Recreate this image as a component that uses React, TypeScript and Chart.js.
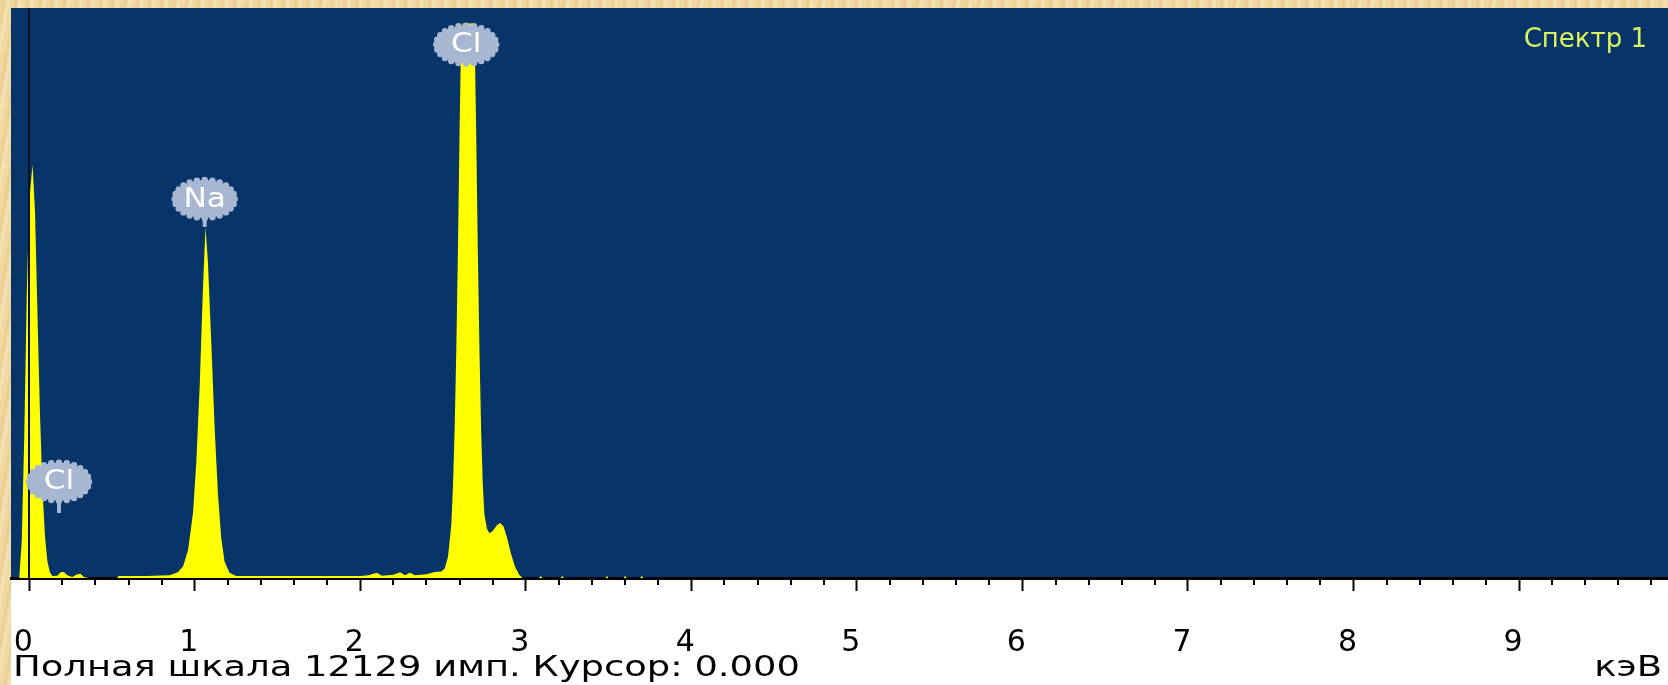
import { useEffect, useRef } from 'react';
import { Chart, registerables } from 'chart.js';

Chart.register(...registerables);

// ---- Spectrum data (energy in keV, counts) ----
const energyKeV = [
  -0.11, -0.06, -0.045, -0.03, -0.015, 0.0, 0.02, 0.035, 0.05, 0.065, 0.08, 0.095, 0.11, 0.125, 0.14,
  0.17, 0.19, 0.21, 0.23, 0.26, 0.29, 0.31, 0.33, 0.36, 0.53, 0.54, 0.7, 0.85,
  0.9, 0.93, 0.96, 0.99, 1.01, 1.03, 1.05, 1.065, 1.08, 1.1, 1.12, 1.14, 1.16, 1.18, 1.21, 1.25,
  1.6, 2.0, 2.05, 2.1, 2.13, 2.2, 2.24, 2.27, 2.3, 2.33, 2.4, 2.45, 2.49,
  2.51, 2.53, 2.55, 2.56, 2.57, 2.58, 2.59, 2.6, 2.61, 2.62, 2.68, 2.69, 2.7, 2.71, 2.72, 2.73, 2.74, 2.75,
  2.765, 2.78, 2.8, 2.825, 2.845, 2.865, 2.885, 2.91, 2.935, 2.96, 2.98,
  3.08, 3.09, 3.1, 3.21, 3.22, 3.23, 3.48, 3.49, 3.5, 3.59, 3.6, 3.61, 3.69, 3.7, 3.71, 9.9,
];
const counts = [
  0, 0, 800, 3000, 6000, 8000, 8800, 7800, 5600, 3500, 1900, 900, 350, 120, 40,
  50, 120, 130, 60, 20, 80, 90, 20, 0, 0, 40, 40, 60,
  130, 250, 600, 1400, 2500, 4100, 6200, 7470, 6700, 5000, 3200, 1800, 850, 350, 110, 45,
  40, 45, 60, 110, 50, 70, 120, 60, 110, 60, 80, 130, 140,
  200, 450, 1140, 1950, 3160, 4835, 6990, 9550, 11700, 11800, 11800, 11700, 9550, 6990, 4835, 3160, 2000, 1350,
  1050, 950, 1000, 1120, 1170, 1100, 880, 520, 240, 70, 0,
  0, 40, 0, 0, 40, 0, 0, 40, 0, 0, 40, 0, 0, 40, 0, 0,
];

// ---- Element markers ----
const peakNames = ['Cl', 'Na', 'Cl'];
const peakLabelKeV = [0.18, 1.06, 2.64];
const peakBubbleCounts = [2050, 8065, 11350];
const peakStemCounts = [1383, 7470, 10960];

// ---- Axis / texts ----
const fullScaleCounts = 12129;
const cursorKeV = 0;
const axisMinKeV = -0.11;
const axisMaxKeV = 9.9;
const minorStepKeV = 0.2;
const spectrumTitle = 'Спектр 1';
const unitLabel = 'кэВ';
const footerText = `Полная шкала ${fullScaleCounts} имп. Курсор: ${cursorKeV.toFixed(3)}`;

const BLUE = '#07356A';
const BUBBLE = '#A8B7D1';

function drawBubble(ctx: CanvasRenderingContext2D, cx: number, cy: number, stemY: number, text: string) {
  const rx = 30;
  const ry = 19;
  ctx.save();
  ctx.fillStyle = BUBBLE;
  ctx.strokeStyle = BUBBLE;
  ctx.lineWidth = 4;
  ctx.beginPath();
  ctx.moveTo(cx, cy + ry);
  ctx.lineTo(cx, stemY);
  ctx.stroke();
  ctx.beginPath();
  ctx.ellipse(cx, cy, rx, ry, 0, 0, Math.PI * 2);
  ctx.fill();
  const n = 24;
  for (let i = 0; i < n; i++) {
    const a = (i / n) * Math.PI * 2;
    ctx.beginPath();
    ctx.arc(cx + rx * Math.cos(a), cy + ry * Math.sin(a), 3.2, 0, Math.PI * 2);
    ctx.fill();
  }
  ctx.fillStyle = '#FFFFFF';
  ctx.font = '26px "DejaVu Sans"';
  ctx.textAlign = 'center';
  ctx.textBaseline = 'middle';
  ctx.translate(cx, cy + 1);
  ctx.scale(1.2, 1);
  ctx.fillText(text, 0, 0);
  ctx.restore();
}

const decorPlugin = {
  id: 'decor',
  beforeDraw(chart: any) {
    const { ctx, chartArea: a, height } = chart;
    ctx.save();
    ctx.fillStyle = BLUE;
    ctx.fillRect(a.left, a.top, a.right - a.left, a.bottom - a.top);
    ctx.fillStyle = '#FFFFFF';
    ctx.fillRect(a.left, a.bottom, a.right - a.left, height - a.bottom);
    ctx.restore();
  },
  afterDatasetsDraw(chart: any) {
    const { ctx, chartArea: a, scales } = chart;
    const xs = scales.x;
    const ys = scales.y;
    ctx.save();
    // cursor
    const cx = Math.round(xs.getPixelForValue(cursorKeV));
    ctx.strokeStyle = '#0B1322';
    ctx.lineWidth = 2;
    ctx.beginPath();
    ctx.moveTo(cx, a.top);
    ctx.lineTo(cx, a.bottom);
    ctx.stroke();
    // minor ticks
    ctx.strokeStyle = '#000';
    ctx.lineWidth = 2;
    const start = Math.ceil(axisMinKeV / minorStepKeV);
    const end = Math.floor(axisMaxKeV / minorStepKeV);
    for (let i = start; i <= end; i++) {
      if (i % 5 === 0) continue;
      const x = Math.round(xs.getPixelForValue(i * minorStepKeV));
      ctx.beginPath();
      ctx.moveTo(x, a.bottom);
      ctx.lineTo(x, a.bottom + 7);
      ctx.stroke();
    }
    ctx.restore();

    // element markers
    for (let i = 0; i < peakNames.length; i++) {
      const px = xs.getPixelForValue(peakLabelKeV[i]);
      const py = ys.getPixelForValue(peakBubbleCounts[i]);
      const sy = ys.getPixelForValue(peakStemCounts[i]);
      drawBubble(ctx, px, py, sy, peakNames[i]);
    }

    // texts
    ctx.save();
    ctx.fillStyle = '#DCF25E';
    ctx.font = '26px "DejaVu Sans"';
    ctx.textBaseline = 'middle';
    ctx.textAlign = 'right';
    ctx.fillText(spectrumTitle, 1647, 40);
    ctx.restore();

    ctx.save();
    ctx.fillStyle = '#000';
    ctx.font = '28px "DejaVu Sans"';
    ctx.textBaseline = 'middle';
    const w = ctx.measureText(footerText).width;
    const sx = 787 / w;
    ctx.save();
    ctx.translate(13, 669);
    ctx.scale(sx, 1);
    ctx.textAlign = 'left';
    ctx.fillText(footerText, 0, 0);
    ctx.restore();
    ctx.save();
    ctx.translate(1662, 669);
    ctx.scale(sx, 1);
    ctx.textAlign = 'right';
    ctx.fillText(unitLabel, 0, 0);
    ctx.restore();
    ctx.restore();
  },
};

export default function App() {
  const ref = useRef<HTMLCanvasElement | null>(null);
  useEffect(() => {
    if (!ref.current) return;
    const chart = new Chart(ref.current, {
      type: 'line',
      data: {
        datasets: [
          {
            data: energyKeV.map((x, i) => ({ x, y: counts[i] })),
            fill: 'origin',
            backgroundColor: '#FFFF00',
            borderColor: 'rgba(0,0,0,0)',
            borderWidth: 1,
            pointRadius: 0,
            tension: 0,
          },
        ],
      },
      options: {
        animation: false,
        responsive: false,
        layout: { padding: { left: 11, top: 8, right: 0, bottom: 0 } },
        plugins: { legend: { display: false }, tooltip: { enabled: false } },
        scales: {
          x: {
            type: 'linear',
            min: axisMinKeV,
            max: axisMaxKeV,
            afterFit: (s: any) => {
              s.height = 107;
              s.paddingLeft = 0;
              s.paddingRight = 0;
            },
            ticks: {
              stepSize: 1,
              includeBounds: false,
              autoSkip: false,
              maxRotation: 0,
              color: '#000',
              padding: 34,
              labelOffset: -6,
              font: { family: 'DejaVu Sans', size: 30 },
              callback: (v: any) => String(v),
            },
            grid: {
              drawOnChartArea: false,
              drawTicks: true,
              tickLength: 13,
              tickWidth: 2,
              tickColor: '#000',
            },
            border: { display: true, color: '#000', width: 3 },
          },
          y: { display: false, min: 0, max: fullScaleCounts },
        },
      },
      plugins: [decorPlugin],
    } as any);
    return () => chart.destroy();
  }, []);

  return (
    <div
      style={{
        position: 'fixed',
        left: 0,
        top: 0,
        width: 1668,
        height: 685,
        background:
          'repeating-linear-gradient(100deg, #F2DCA4 0px, #E9CD91 4px, #F5E2B4 8px, #EDD39B 12px)',
      }}
    >
      <canvas ref={ref} width={1668} height={685} style={{ display: 'block' }} />
    </div>
  );
}
